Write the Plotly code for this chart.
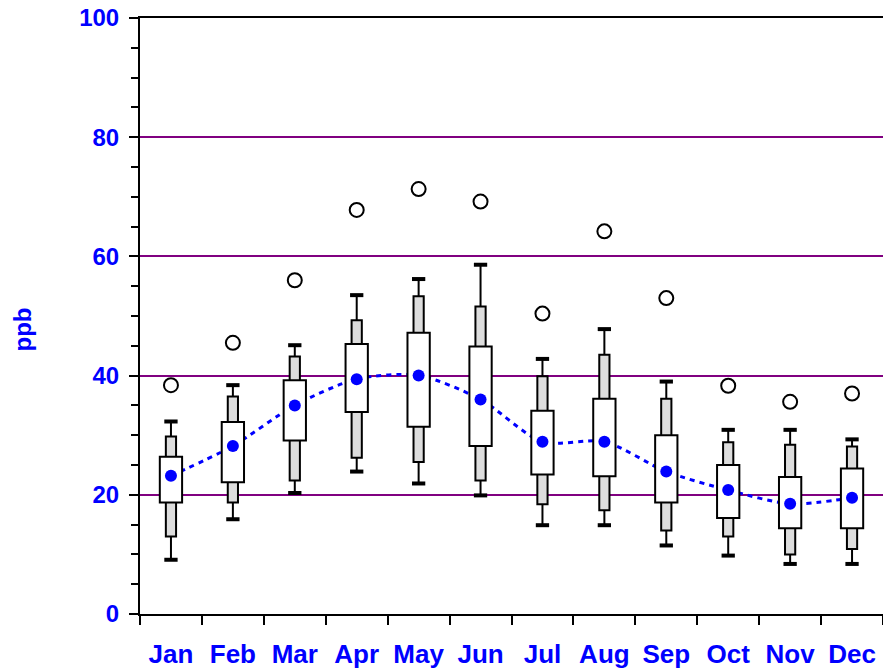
import plotly.graph_objects as go

# Monthly concentration statistics (ppb)
months = ["Jan", "Feb", "Mar", "Apr", "May", "Jun",
          "Jul", "Aug", "Sep", "Oct", "Nov", "Dec"]
maximum = [38.4, 45.5, 56.0, 67.8, 71.3, 69.2, 50.4, 64.2, 53.0, 38.3, 35.6, 37.0]
p95 = [32.3, 38.4, 45.1, 53.5, 56.2, 58.6, 42.8, 47.8, 39.0, 30.9, 30.9, 29.3]
p90 = [29.8, 36.5, 43.2, 49.3, 53.3, 51.6, 39.9, 43.5, 36.1, 28.8, 28.4, 28.1]
p75 = [26.4, 32.2, 39.2, 45.3, 47.2, 44.9, 34.1, 36.1, 30.0, 25.0, 23.0, 24.4]
mean = [23.2, 28.2, 35.0, 39.4, 40.0, 36.0, 28.9, 28.9, 23.9, 20.8, 18.5, 19.5]
p25 = [18.7, 22.1, 29.1, 33.9, 31.4, 28.2, 23.4, 23.1, 18.7, 16.1, 14.4, 14.4]
p10 = [13.0, 18.7, 22.4, 26.2, 25.5, 22.4, 18.4, 17.4, 14.0, 13.0, 10.0, 10.9]
p5 = [9.1, 15.9, 20.3, 23.9, 21.9, 19.9, 14.9, 14.9, 11.5, 9.8, 8.4, 8.4]

FONT = "Arial, Liberation Sans, sans-serif"
BLUE = "#0000ff"

fig = go.Figure()

# Smoothed mean curve, drawn on the lower axis so boxes sit on top of it
fig.add_trace(go.Scatter(
    x=months, y=mean, mode="lines", yaxis="y",
    line=dict(color=BLUE, width=3, dash="5px,5px", shape="spline", smoothing=0.8),
    hoverinfo="skip", showlegend=False))

# 10th-90th percentile bars (narrow grey)
fig.add_trace(go.Bar(
    x=months, y=[h - l for h, l in zip(p90, p10)], base=p10, yaxis="y2",
    width=0.165, marker=dict(color="#dddddd", line=dict(color="black", width=2)),
    showlegend=False))

# Interquartile boxes (wide white)
fig.add_trace(go.Bar(
    x=months, y=[h - l for h, l in zip(p75, p25)], base=p25, yaxis="y2",
    width=0.36, marker=dict(color="white", line=dict(color="black", width=2)),
    showlegend=False))

# Whiskers from the grey bars out to the 5th / 95th percentiles
wx, wy = [], []
for m, lo5, lo10, hi90, hi95 in zip(months, p5, p10, p90, p95):
    wx += [m, m, None, m, m, None]
    wy += [lo5, lo10, None, hi90, hi95, None]
fig.add_trace(go.Scatter(
    x=wx, y=wy, mode="lines", yaxis="y2",
    line=dict(color="black", width=2), hoverinfo="skip", showlegend=False))

# Whisker caps
fig.add_trace(go.Scatter(
    x=months + months, y=p5 + p95, mode="markers", yaxis="y2",
    marker=dict(symbol="line-ew", size=9.5, line=dict(color="black", width=4)),
    hoverinfo="skip", showlegend=False))

# Monthly means
fig.add_trace(go.Scatter(
    x=months, y=mean, mode="markers", yaxis="y2",
    marker=dict(symbol="circle", size=12, color=BLUE, line=dict(width=0)),
    showlegend=False))

# Monthly maxima
fig.add_trace(go.Scatter(
    x=months, y=maximum, mode="markers", yaxis="y2",
    marker=dict(symbol="circle", size=14, color="white",
                line=dict(color="black", width=2)),
    showlegend=False))

fig.update_layout(
    width=883, height=669,
    template="none",
    paper_bgcolor="white", plot_bgcolor="white",
    margin=dict(l=140, r=0, t=18, b=55),
    barmode="overlay",
    showlegend=False,
    font=dict(family=FONT, color=BLUE),
    xaxis=dict(
        type="category", categoryorder="array", categoryarray=months,
        range=[-0.5, 11.5], tickson="boundaries",
        ticks="outside", ticklen=9, tickwidth=2, tickcolor="black",
        showline=True, linewidth=2, linecolor="black", mirror=True,
        showgrid=False, zeroline=False,
        tickfont=dict(family=FONT, size=26, color=BLUE, weight="bold"),
        ticklabelstandoff=16,
    ),
    yaxis=dict(
        range=[0, 100], tickvals=[0, 20, 40, 60, 80, 100],
        ticks="outside", ticklen=9, tickwidth=2, tickcolor="black",
        showline=True, linewidth=2, linecolor="black",
        showgrid=True, gridcolor="#800080", gridwidth=2, zeroline=False,
        minor=dict(dtick=5, ticks="outside", ticklen=7, tickwidth=2,
                   tickcolor="black", showgrid=False),
        tickfont=dict(family=FONT, size=24, color=BLUE, weight="bold"),
        ticklabelstandoff=5,
    ),
    yaxis2=dict(range=[0, 100], overlaying="y", visible=False),
    annotations=[dict(
        text="ppb", textangle=-90, xref="paper", yref="paper",
        x=(21.5 - 140) / 743, y=(614 - 330) / 596,
        showarrow=False, xanchor="center", yanchor="middle",
        font=dict(family=FONT, size=24, color=BLUE, weight="bold"))],
)

fig.write_html("out.html")
